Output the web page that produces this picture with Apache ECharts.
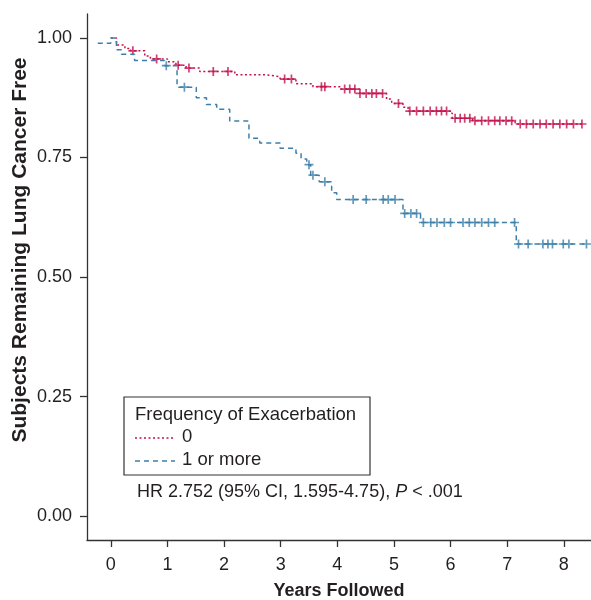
<!DOCTYPE html>
<html>
<head>
<meta charset="utf-8">
<script src="https://cdn.jsdelivr.net/npm/echarts@6/dist/echarts.min.js"></script>
<style>html,body{margin:0;padding:0;background:#fff}#c{width:591px;height:600px}</style>
</head>
<body>
<div id="c"></div>
<script>
// ---- data ----
const xTicks = [0, 1, 2, 3, 4, 5, 6, 7, 8];
const yTicks = [0, 0.25, 0.5, 0.75, 1];
const seriesNames = ['0', '1 or more'];

// group "0" (no exacerbation): step times (years) and survival after each step
const redTimes  = [0, 0.1, 0.25, 0.35, 0.6, 0.7, 1.0, 1.15, 1.33, 1.57, 2.19, 2.72, 2.99, 3.27, 3.57, 4.05, 4.4, 4.87, 4.96, 5.16, 5.25, 5.99, 6.03, 6.39, 7.14, 8.34];
const redValues = [1.0, 0.985, 0.978, 0.973, 0.962, 0.956, 0.95, 0.943, 0.937, 0.930, 0.923, 0.919, 0.914, 0.904, 0.898, 0.893, 0.884, 0.872, 0.863, 0.855, 0.847, 0.8425, 0.832, 0.827, 0.820, 0.820];
const redCensor = [0.39, 0.81, 1.19, 1.38, 1.81, 2.07, 3.07, 3.19, 3.72, 3.78, 4.13, 4.22, 4.31, 4.40, 4.51, 4.61, 4.69, 4.80, 5.08, 5.28, 5.40, 5.52, 5.64, 5.75, 5.84, 5.93, 6.08, 6.17, 6.25, 6.34, 6.43, 6.55, 6.67, 6.78, 6.87, 6.98, 7.08, 7.23, 7.34, 7.46, 7.58, 7.69, 7.81, 7.93, 8.05, 8.17, 8.32];

// group "1 or more"
const blueTimes  = [-0.23, 0, 0.1, 0.19, 0.42, 0.95, 1.17, 1.51, 1.69, 1.87, 2.1, 2.44, 2.63, 2.99, 3.27, 3.36, 3.46, 3.53, 3.68, 3.9, 3.99, 5.16, 5.47, 7.16, 8.43];
const blueValues = [0.989, 1.0, 0.975, 0.966, 0.953, 0.942, 0.897, 0.875, 0.861, 0.851, 0.826, 0.790, 0.780, 0.769, 0.759, 0.747, 0.735, 0.713, 0.699, 0.676, 0.662, 0.633, 0.614, 0.569, 0.569];
const blueCensor = [0.98, 1.30, 3.50, 3.57, 3.78, 4.28, 4.51, 4.81, 4.90, 5.02, 5.19, 5.30, 5.40, 5.52, 5.65, 5.76, 5.89, 6.00, 6.22, 6.33, 6.43, 6.55, 6.67, 6.78, 7.13, 7.20, 7.37, 7.63, 7.72, 7.80, 7.99, 8.09, 8.40];

const hrText = 'HR 2.752 (95% CI, 1.595-4.75), ';
const legendTitle = 'Frequency of Exacerbation';

// ---- helpers ----
function stepAt(times, values, t) {
  let v = values[0];
  for (let i = 0; i < times.length; i++) { if (times[i] <= t) v = values[i]; }
  return v;
}
const RED = '#c3124b', BLUE = '#3d7fa9', INK = '#231f20';
const FONT = 'Liberation Sans, Arial, Helvetica, sans-serif';
const plus = 'path://M3.25,0h1.5v8h-1.5zM0,3.25h8v1.5h-8z';

const chart = echarts.init(document.getElementById('c'), null, {renderer: 'canvas'});
chart.setOption({
  animation: false,
  backgroundColor: '#fff',
  grid: {left: 87, top: 14, right: 0, bottom: 60, containLabel: false, outerBoundsMode: 'none'},
  xAxis: {
    type: 'value', min: -0.42, max: 8.48,
    name: 'Years Followed', nameLocation: 'middle', nameGap: 42,
    nameTextStyle: {fontFamily: FONT, fontSize: 18, fontWeight: 'bold', color: INK},
    axisLine: {onZero: false, lineStyle: {color: '#333', width: 1.3}},
    axisTick: {show: true, length: 7, customValues: xTicks, lineStyle: {color: '#333', width: 1.3}},
    axisLabel: {customValues: xTicks, margin: 16, fontFamily: FONT, fontSize: 18, color: INK},
    splitLine: {show: false}
  },
  yAxis: {
    type: 'value', min: -0.05, max: 1.05,
    axisLine: {show: true, onZero: false, lineStyle: {color: '#333', width: 1.3}},
    axisTick: {show: true, length: 7, customValues: yTicks, lineStyle: {color: '#333', width: 1.3}},
    axisLabel: {customValues: yTicks, margin: 15, fontFamily: FONT, fontSize: 18, color: INK,
      formatter: v => v.toFixed(2)},
    splitLine: {show: false}
  },
  series: [
    {name: seriesNames[0], type: 'line', step: 'end', symbol: 'none',
     data: redTimes.map((t, i) => [t, redValues[i]]),
     lineStyle: {color: RED, width: 1.5, type: [2, 2.5]}},
    {name: seriesNames[1], type: 'line', step: 'end', symbol: 'none',
     data: blueTimes.map((t, i) => [t, blueValues[i]]),
     lineStyle: {color: BLUE, width: 1.5, type: [5, 4]}},
    {type: 'scatter', symbol: plus, symbolSize: 9,
     data: redCensor.map(t => [t, stepAt(redTimes, redValues, t)]),
     itemStyle: {color: RED}},
    {type: 'scatter', symbol: plus, symbolSize: 9,
     data: blueCensor.map(t => [t, stepAt(blueTimes, blueValues, t)]),
     itemStyle: {color: BLUE}}
  ],
  graphic: [
    {type: 'text', x: 20, y: 250, rotation: Math.PI / 2,
     style: {text: 'Subjects Remaining Lung Cancer Free', fontFamily: FONT, fontSize: 21, fontWeight: 'bold',
       fill: INK, align: 'center', verticalAlign: 'middle'}},
    {type: 'rect', shape: {x: 124, y: 397, width: 246, height: 78},
     style: {fill: '#fff', stroke: '#333', lineWidth: 1.2}},
    {type: 'text', x: 135, y: 415,
     style: {text: legendTitle, fontFamily: FONT, fontSize: 18.5, fill: INK, verticalAlign: 'middle'}},
    {type: 'line', shape: {x1: 135, y1: 438, x2: 175, y2: 438},
     style: {stroke: RED, lineWidth: 1.5, lineDash: [2, 2.5]}},
    {type: 'text', x: 182, y: 437,
     style: {text: seriesNames[0], fontFamily: FONT, fontSize: 18.5, fill: INK, verticalAlign: 'middle'}},
    {type: 'line', shape: {x1: 135, y1: 461, x2: 175, y2: 461},
     style: {stroke: BLUE, lineWidth: 1.5, lineDash: [5, 4]}},
    {type: 'text', x: 182, y: 460,
     style: {text: seriesNames[1], fontFamily: FONT, fontSize: 18.5, fill: INK, verticalAlign: 'middle'}},
    {type: 'text', x: 137, y: 492,
     style: {text: hrText + '{i|P} < .001', fontFamily: FONT, fontSize: 18, fill: INK, verticalAlign: 'middle',
       rich: {i: {fontFamily: FONT, fontSize: 18, fontStyle: 'italic', fill: INK}}}}
  ]
});
</script>
</body>
</html>
